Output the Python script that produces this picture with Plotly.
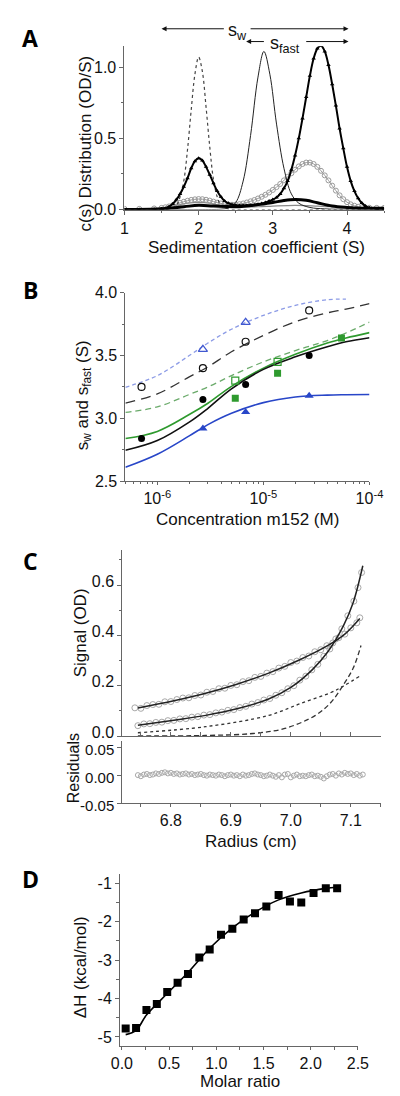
import plotly.graph_objects as go

FONT = "Liberation Sans"
W, H = 400, 1096

# ---------------- Panel A data ----------------
a_dot_s = [1.0, 1.5, 1.6, 1.7, 1.75, 1.8, 1.85, 1.9, 1.95, 2.0, 2.05, 2.1, 2.15, 2.2, 2.25, 2.3, 2.4, 2.5, 3.0, 4.5]
a_dot_c = [0.0, 0.0, 0.004, 0.03, 0.09, 0.2, 0.42, 0.7, 0.95, 1.07, 0.97, 0.72, 0.44, 0.21, 0.09, 0.03, 0.004, 0.0, 0.0, 0.0]

a_thin_s = [1.0, 2.0, 2.3, 2.4, 2.5, 2.6, 2.7, 2.8, 2.88, 2.96, 3.05, 3.15, 3.25, 3.35, 3.5, 3.7, 4.0, 4.5]
a_thin_c = [0.0, 0.0, 0.003, 0.012, 0.05, 0.2, 0.52, 0.93, 1.11, 0.95, 0.6, 0.29, 0.11, 0.045, 0.015, 0.005, 0.002, 0.0]

a_tri_s = [1.0, 1.2, 1.4, 1.5, 1.55, 1.6, 1.65, 1.7, 1.75, 1.8, 1.85, 1.9, 1.95, 2.0, 2.05, 2.1, 2.15, 2.2, 2.25,
           2.3, 2.35, 2.4, 2.45, 2.5, 2.55, 2.6, 2.65, 2.7, 2.75, 2.8, 2.85, 2.9, 2.95, 3.0, 3.05, 3.1, 3.15, 3.2,
           3.25, 3.3, 3.35, 3.4, 3.45, 3.5, 3.55, 3.6, 3.65, 3.7, 3.75, 3.8, 3.85, 3.9, 3.95, 4.0, 4.05, 4.1, 4.15,
           4.2, 4.25, 4.3, 4.4, 4.5]
a_tri_c = [0.0, 0.001, 0.003, 0.005, 0.01, 0.02, 0.04, 0.07, 0.11, 0.16, 0.22, 0.29, 0.34, 0.36, 0.345, 0.30, 0.245,
           0.185, 0.13, 0.09, 0.06, 0.045, 0.035, 0.03, 0.028, 0.028, 0.028, 0.03, 0.033, 0.037, 0.042, 0.05, 0.06,
           0.07, 0.085, 0.11, 0.15, 0.2, 0.28, 0.38, 0.5, 0.64, 0.79, 0.94, 1.06, 1.13, 1.15, 1.11, 1.015, 0.88, 0.73,
           0.57, 0.43, 0.30, 0.2, 0.13, 0.08, 0.046, 0.025, 0.013, 0.005, 0.003]

a_circ_s = [1.0, 1.2, 1.4, 1.5, 1.55, 1.6, 1.65, 1.7, 1.75, 1.8, 1.85, 1.9, 1.95, 2.0, 2.05, 2.1, 2.15, 2.2, 2.25,
            2.3, 2.35, 2.4, 2.45, 2.5, 2.55, 2.6, 2.65, 2.7, 2.75, 2.8, 2.85, 2.9, 2.95, 3.0, 3.05, 3.1, 3.15, 3.2,
            3.25, 3.3, 3.35, 3.4, 3.45, 3.5, 3.55, 3.6, 3.65, 3.7, 3.75, 3.8, 3.85, 3.9, 3.95, 4.0, 4.05, 4.1, 4.15,
            4.2, 4.3, 4.4, 4.5]
a_circ_c = [0.005, 0.005, 0.008, 0.012, 0.016, 0.022, 0.03, 0.038, 0.047, 0.055, 0.062, 0.068, 0.072, 0.074, 0.073,
            0.069, 0.063, 0.056, 0.049, 0.043, 0.038, 0.035, 0.034, 0.035, 0.038, 0.043, 0.05, 0.058, 0.067, 0.078,
            0.09, 0.104, 0.12, 0.138, 0.158, 0.18, 0.205, 0.23, 0.255, 0.28, 0.303, 0.32, 0.33, 0.33, 0.32, 0.3, 0.272,
            0.24, 0.205, 0.168, 0.133, 0.1, 0.073, 0.052, 0.037, 0.027, 0.02, 0.016, 0.013, 0.012, 0.012]

a_gray_s = [1.0, 1.5, 1.7, 1.85, 2.0, 2.15, 2.3, 2.5, 2.8, 3.0, 3.3, 3.6, 4.0, 4.5]
a_gray_c = [0.003, 0.01, 0.03, 0.045, 0.05, 0.045, 0.03, 0.02, 0.02, 0.025, 0.03, 0.025, 0.015, 0.01]

a_thick_s = [1.0, 1.5, 1.8, 2.0, 2.2, 2.5, 2.8, 3.0, 3.15, 3.3, 3.45, 3.6, 3.8, 4.0, 4.2, 4.5]
a_thick_c = [0.0, 0.005, 0.02, 0.03, 0.025, 0.02, 0.035, 0.05, 0.063, 0.07, 0.065, 0.048, 0.025, 0.015, 0.01, 0.01]

# ---------------- Panel B data ----------------
b_conc = [7.1e-7, 2.69e-6, 6.8e-6, 2.7e-5]
b_open_circ = [3.25, 3.40, 3.61, 3.86]
b_fill_circ = [2.84, 3.15, 3.27, 3.50]
b_open_tri_x = [2.69e-6, 6.8e-6]
b_open_tri = [3.55, 3.765]
b_fill_tri_x = [2.69e-6, 6.8e-6, 2.7e-5]
b_fill_tri = [2.92, 3.05, 3.18]
b_open_sq_x = [5.43e-6, 1.36e-5]
b_open_sq = [3.30, 3.45]
b_fill_sq_x = [5.43e-6, 1.36e-5, 5.44e-5]
b_fill_sq = [3.16, 3.36, 3.64]

b_fit_x = [5.0e-7, 1.0e-6, 2.0e-6, 3.0e-6, 5.0e-6, 1.0e-5, 2.0e-5, 4.0e-5, 6.0e-5, 1.0e-4]
b_fit_lblue = [3.247, 3.34, 3.50, 3.60, 3.71, 3.82, 3.90, 3.945, 3.95, None]
b_fit_kdash = [3.122, 3.195, 3.33, 3.41, 3.53, 3.66, 3.77, 3.84, 3.87, 3.914]
b_fit_gdash = [3.047, 3.091, 3.19, 3.25, 3.34, 3.45, 3.54, 3.62, 3.68, 3.766]
b_fit_green = [2.839, 2.896, 3.03, 3.12, 3.255, 3.40, 3.51, 3.60, 3.64, 3.683]
b_fit_black = [2.745, 2.823, 2.97, 3.08, 3.235, 3.39, 3.49, 3.57, 3.61, 3.642]
b_fit_blue = [2.61, 2.714, 2.86, 2.95, 3.04, 3.125, 3.17, 3.185, 3.188, 3.19]

# ---------------- Panel C data ----------------
c_r1 = [6.74, 6.75, 6.76, 6.77, 6.78, 6.79, 6.80, 6.81, 6.82, 6.83, 6.84, 6.85, 6.86, 6.87, 6.88, 6.89, 6.90,
        6.91, 6.92, 6.93, 6.94, 6.95, 6.96, 6.97, 6.98, 6.99, 7.00, 7.01, 7.02, 7.03, 7.04, 7.05, 7.06, 7.07,
        7.08, 7.09, 7.10, 7.11, 7.115]
c_sig1 = [0.112, 0.110, 0.121, 0.125, 0.126, 0.136, 0.137, 0.145, 0.151, 0.152, 0.161, 0.163, 0.174, 0.177, 0.188,
          0.190, 0.201, 0.204, 0.216, 0.220, 0.233, 0.237, 0.250, 0.256, 0.270, 0.277, 0.292, 0.298, 0.312, 0.318,
          0.335, 0.343, 0.359, 0.370, 0.391, 0.405, 0.430, 0.450, 0.470]
c_r2 = [6.745, 6.755, 6.765, 6.775, 6.785, 6.795, 6.805, 6.815, 6.825, 6.835, 6.845, 6.855, 6.865, 6.875, 6.885,
        6.895, 6.905, 6.915, 6.925, 6.935, 6.945, 6.955, 6.965, 6.975, 6.985, 6.995, 7.005, 7.015, 7.025, 7.035,
        7.045, 7.055, 7.065, 7.075, 7.085, 7.095, 7.105, 7.112, 7.118]
c_sig2 = [0.041, 0.048, 0.049, 0.054, 0.055, 0.061, 0.062, 0.068, 0.069, 0.075, 0.077, 0.083, 0.085, 0.092, 0.095,
          0.102, 0.105, 0.113, 0.118, 0.127, 0.133, 0.143, 0.149, 0.162, 0.172, 0.188, 0.200, 0.222, 0.238, 0.263,
          0.285, 0.317, 0.346, 0.386, 0.426, 0.478, 0.536, 0.59, 0.65]
c_fit1_r = [6.745, 6.805, 6.858, 6.91, 6.963, 7.015, 7.062, 7.09, 7.115]
c_fit1 = [0.111, 0.14, 0.17, 0.206, 0.25, 0.303, 0.36, 0.405, 0.467]
c_fit2_r = [6.745, 6.805, 6.858, 6.91, 6.963, 7.0, 7.036, 7.062, 7.088, 7.104, 7.12]
c_fit2 = [0.043, 0.063, 0.082, 0.108, 0.147, 0.193, 0.264, 0.336, 0.44, 0.531, 0.677]
c_dot_r = [6.745, 6.858, 6.963, 7.015, 7.067, 7.088, 7.115]
c_dot = [0.013, 0.037, 0.082, 0.128, 0.173, 0.199, 0.238]
c_dash_r = [6.745, 6.858, 6.937, 6.99, 7.041, 7.067, 7.088, 7.104, 7.117]
c_dash = [0.0, 0.002, 0.01, 0.03, 0.082, 0.134, 0.205, 0.27, 0.36]

c_res_r = [6.745, 6.750, 6.755, 6.760, 6.765, 6.770, 6.775, 6.780, 6.785, 6.790,
           6.795, 6.800, 6.805, 6.810, 6.815, 6.820, 6.825, 6.830, 6.835, 6.840,
           6.845, 6.850, 6.855, 6.860, 6.865, 6.870, 6.875, 6.880, 6.885, 6.890,
           6.895, 6.900, 6.905, 6.910, 6.915, 6.920, 6.925, 6.930, 6.935, 6.940,
           6.945, 6.950, 6.955, 6.960, 6.965, 6.970, 6.975, 6.980, 6.985, 6.990,
           6.995, 7.000, 7.005, 7.010, 7.015, 7.020, 7.025, 7.030, 7.035, 7.040,
           7.045, 7.050, 7.055, 7.060, 7.065, 7.070, 7.075, 7.080, 7.085, 7.090,
           7.095, 7.100, 7.105, 7.110, 7.115, 7.120]
c_res = [0.000, -0.002, 0.001, 0.002, 0.000, 0.001, 0.003, 0.002, 0.004, 0.005,
         0.003, 0.004, 0.002, 0.003, 0.001, 0.002, 0.003, 0.001, 0.002, 0.000,
         0.001, 0.002, 0.000, -0.001, 0.001, 0.000, -0.001, 0.001, 0.000, -0.002,
         0.000, 0.001, -0.001, 0.000, -0.002, 0.001, -0.001, 0.000, 0.002, 0.003,
         0.001, 0.000, -0.002, -0.001, 0.001, -0.001, -0.003, 0.000, -0.004, 0.001,
         0.002, -0.004, -0.001, 0.001, -0.002, -0.001, -0.002, 0.000, 0.001, -0.002,
         -0.001, -0.003, -0.006, -0.002, 0.001, 0.002, -0.001, 0.003, 0.001, 0.004,
         0.002, 0.003, 0.000, 0.002, -0.001, 0.001]

# ---------------- Panel D data ----------------
d_ratio = [0.04, 0.15, 0.26, 0.37, 0.48, 0.59, 0.70, 0.82, 0.93, 1.05, 1.17, 1.29, 1.41, 1.53, 1.66, 1.78,
           1.90, 2.03, 2.16, 2.28]
d_dh = [-4.78, -4.77, -4.30, -4.14, -3.83, -3.59, -3.36, -2.93, -2.72, -2.34, -2.18, -1.94, -1.78, -1.60, -1.30,
        -1.47, -1.50, -1.25, -1.13, -1.13]
d_fit_x = [0.04, 0.15, 0.26, 0.48, 0.70, 0.93, 1.17, 1.41, 1.66, 1.90, 2.16, 2.28]
d_fit = [-4.94, -4.83, -4.43, -3.87, -3.32, -2.69, -2.16, -1.75, -1.43, -1.25, -1.13, -1.10]

fig = go.Figure()

# Panel A traces
fig.add_trace(go.Scatter(x=a_gray_s, y=a_gray_c, mode="lines", line=dict(color="#8a8a8a", width=1.2, shape="spline"),
                         xaxis="x", yaxis="y"))
fig.add_trace(go.Scatter(x=a_circ_s, y=a_circ_c, mode="lines+markers",
                         line=dict(color="#9a9a9a", width=1, shape="spline"),
                         marker=dict(symbol="circle-open", size=5, color="#9a9a9a", line=dict(width=1)),
                         xaxis="x", yaxis="y"))
fig.add_trace(go.Scatter(x=a_dot_s, y=a_dot_c, mode="lines", line=dict(color="#444", width=1.2, dash="dot", shape="spline"),
                         xaxis="x", yaxis="y"))
fig.add_trace(go.Scatter(x=a_thin_s, y=a_thin_c, mode="lines", line=dict(color="#222", width=1, shape="spline"),
                         xaxis="x", yaxis="y"))
fig.add_trace(go.Scatter(x=a_thick_s, y=a_thick_c, mode="lines", line=dict(color="#000", width=3, shape="spline"),
                         xaxis="x", yaxis="y"))
fig.add_trace(go.Scatter(x=a_tri_s, y=a_tri_c, mode="lines+markers", line=dict(color="#000", width=2, shape="spline"),
                         marker=dict(symbol="triangle-up", size=4, color="#000"),
                         xaxis="x", yaxis="y"))

# Panel B traces
lines_b = [
    (b_fit_lblue, "#8c9be6", "4px,3px", 1.3),
    (b_fit_kdash, "#333333", "10px,6px", 1.3),
    (b_fit_gdash, "#6aaa6a", "6px,4px", 1.3),
    (b_fit_green, "#2e9a2e", "solid", 1.6),
    (b_fit_black, "#111111", "solid", 1.6),
    (b_fit_blue, "#2846c8", "solid", 1.6),
]
for yv, col, dsh, wd in lines_b:
    fig.add_trace(go.Scatter(x=b_fit_x, y=yv, mode="lines", line=dict(color=col, width=wd, dash=dsh, shape="spline"),
                             connectgaps=False, xaxis="x2", yaxis="y2"))
fig.add_trace(go.Scatter(x=b_open_tri_x, y=b_open_tri, mode="markers",
                         marker=dict(symbol="triangle-up-open", size=8, color="#4058d0", line=dict(width=1.2)),
                         xaxis="x2", yaxis="y2"))
fig.add_trace(go.Scatter(x=b_conc, y=b_open_circ, mode="markers",
                         marker=dict(symbol="circle-open", size=7, color="#111", line=dict(width=1.2)),
                         xaxis="x2", yaxis="y2"))
fig.add_trace(go.Scatter(x=b_open_sq_x, y=b_open_sq, mode="markers",
                         marker=dict(symbol="square-open", size=7, color="#2e9a2e", line=dict(width=1.2)),
                         xaxis="x2", yaxis="y2"))
fig.add_trace(go.Scatter(x=b_fill_sq_x, y=b_fill_sq, mode="markers",
                         marker=dict(symbol="square", size=7, color="#2e9a2e"),
                         xaxis="x2", yaxis="y2"))
fig.add_trace(go.Scatter(x=b_conc, y=b_fill_circ, mode="markers",
                         marker=dict(symbol="circle", size=7, color="#000"),
                         xaxis="x2", yaxis="y2"))
fig.add_trace(go.Scatter(x=b_fill_tri_x, y=b_fill_tri, mode="markers",
                         marker=dict(symbol="triangle-up", size=8, color="#2846c8"),
                         xaxis="x2", yaxis="y2"))

# Panel C traces
fig.add_trace(go.Scatter(x=c_r1, y=c_sig1, mode="markers",
                         marker=dict(symbol="circle-open", size=6, color="#a8a8a8", line=dict(width=1)),
                         xaxis="x3", yaxis="y3"))
fig.add_trace(go.Scatter(x=c_r2, y=c_sig2, mode="markers",
                         marker=dict(symbol="circle-open", size=6, color="#a8a8a8", line=dict(width=1)),
                         xaxis="x3", yaxis="y3"))
fig.add_trace(go.Scatter(x=c_fit1_r, y=c_fit1, mode="lines", line=dict(color="#222", width=1.5, shape="spline"),
                         xaxis="x3", yaxis="y3"))
fig.add_trace(go.Scatter(x=c_fit2_r, y=c_fit2, mode="lines", line=dict(color="#222", width=1.5, shape="spline"),
                         xaxis="x3", yaxis="y3"))
fig.add_trace(go.Scatter(x=c_dot_r, y=c_dot, mode="lines", line=dict(color="#333", width=1.3, dash="dot", shape="spline"),
                         xaxis="x3", yaxis="y3"))
fig.add_trace(go.Scatter(x=c_dash_r, y=c_dash, mode="lines", line=dict(color="#333", width=1.3, dash="5px,3px", shape="spline"),
                         xaxis="x3", yaxis="y3"))
fig.add_trace(go.Scatter(x=c_res_r, y=c_res, mode="markers",
                         marker=dict(symbol="circle-open", size=5, color="#a8a8a8", line=dict(width=1)),
                         xaxis="x4", yaxis="y4"))

# Panel D traces
fig.add_trace(go.Scatter(x=d_fit_x, y=d_fit, mode="lines", line=dict(color="#000", width=1.6, shape="spline"),
                         xaxis="x5", yaxis="y5"))
fig.add_trace(go.Scatter(x=d_ratio, y=d_dh, mode="markers", marker=dict(symbol="square", size=8, color="#000"),
                         xaxis="x5", yaxis="y5"))


def px_x(p):
    return p / W


def px_y(p):
    return 1 - p / H


tickfont = dict(family=FONT, size=16, color="#111")
base = dict(showline=True, linecolor="#666", linewidth=1, ticks="outside", ticklen=4, tickcolor="#666",
            showgrid=False, zeroline=False, tickfont=tickfont)

minor_b = [k * 10 ** e for e in (-7, -6, -5) for k in range(2, 10) if 5e-7 <= k * 10 ** e <= 1e-4]

fig.update_layout(
    width=W, height=H, margin=dict(l=0, r=0, t=0, b=0), showlegend=False,
    paper_bgcolor="white", plot_bgcolor="white", font=dict(family=FONT, color="#111"),
    xaxis=dict(base, domain=[px_x(114), px_x(389.5)], range=[1, 4.5], anchor="y", tickvals=[1, 2, 3, 4],
               minor=dict(dtick=0.5, ticklen=2, ticks="outside", tickcolor="#666")),
    yaxis=dict(base, domain=[px_y(197), px_y(30.7)], range=[0, 1.147], anchor="x", tickvals=[0, 0.5, 1.0],
               tickformat=".1f", minor=dict(dtick=0.25, ticklen=2, ticks="outside", tickcolor="#666")),
    xaxis2=dict(base, domain=[px_x(115), px_x(374)], type="log", range=[-6.301, -4], anchor="y2",
                tickvals=[1e-6, 1e-5, 1e-4], ticktext=["10<sup>-6</sup>", "10<sup>-5</sup>", "10<sup>-4</sup>"],
                ticklen=3,
                minor=dict(tickvals=minor_b, ticklen=2, ticks="outside", tickcolor="#666")),
    yaxis2=dict(base, domain=[px_y(473.3), px_y(281.7)], range=[2.5, 4.0], anchor="x2",
                tickvals=[2.5, 3.0, 3.5, 4.0], tickformat=".1f",
                minor=dict(dtick=0.25, ticklen=2, ticks="outside", tickcolor="#666")),
    xaxis3=dict(base, domain=[px_x(111.7), px_x(386)], range=[6.719, 7.15], anchor="y3", showticklabels=False,
                ticks="inside", dtick=0.05, tick0=6.75),
    yaxis3=dict(base, domain=[px_y(732.7), px_y(543.3)], range=[0, 0.74], anchor="x3",
                tickvals=[0, 0.2, 0.4, 0.6], tickformat=".1f", ticklabelshift=-4,
                minor=dict(dtick=0.1, ticklen=2, ticks="outside", tickcolor="#666")),
    xaxis4=dict(base, domain=[px_x(111.7), px_x(386)], range=[6.719, 7.15], anchor="y4", ticklen=3,
                tickvals=[6.8, 6.9, 7.0, 7.1], tickformat=".1f",
                minor=dict(dtick=0.05, tick0=6.75, ticklen=3, ticks="outside", tickcolor="#666")),
    yaxis4=dict(base, domain=[px_y(801), px_y(738)], range=[-0.05, 0.0605], anchor="x4",
                tickvals=[-0.05, 0, 0.05], ticktext=["-0.05", "0.00", "0.05"], ticklabelshift=3,
                tickfont=dict(family=FONT, size=15, color="#111")),
    xaxis5=dict(base, domain=[px_x(109.3), px_x(361.7)], range=[-0.02, 2.5], anchor="y5", ticklen=3,
                tickvals=[0, 0.5, 1.0, 1.5, 2.0, 2.5], tickformat=".1f",
                minor=dict(dtick=0.25, ticklen=3, ticks="outside", tickcolor="#666")),
    yaxis5=dict(base, domain=[px_y(1048.3), px_y(873.3)], range=[-5.24, -0.76], anchor="x5",
                tickvals=[-5, -4, -3, -2, -1], ticktext=["-5", "-4", "-3", "-2", "-1"],
                minor=dict(dtick=0.5, ticklen=3, ticks="outside", tickcolor="#666")),
)

ann = []
tfont = dict(family=FONT, size=17, color="#111")


def add_text(text, x, y, angle=0, font=tfont):
    ann.append(dict(text=text, x=px_x(x), y=px_y(y), xref="paper", yref="paper", showarrow=False,
                    xanchor="center", yanchor="middle", textangle=angle, font=font))


add_text("Sedimentation coefficient (S)", 254, 236)
add_text("c(s) Distribution (OD/S)", 73, 130, -90)
add_text("Concentration m152 (M)", 245, 512)
add_text("s<sub>w</sub> and s<sub>fast</sub> (S)", 71, 386, -90)
add_text("Signal (OD)", 67, 628, -90)
add_text("Residuals", 60, 766, -90, dict(family=FONT, size=16, color="#111"))
add_text("Radius (cm)", 248, 840)
add_text("ΔH (kcal/mol)", 67, 968, -90)
add_text("Molar ratio", 237, 1084)

lfont = dict(family="Open Sans", size=23, color="#000")
for lab, yy in (("<b>A</b>", 22), ("<b>B</b>", 279), ("<b>C</b>", 555), ("<b>D</b>", 878)):
    add_text(lab, 14, yy, 0, lfont)

# arrows for s_w and s_fast in panel A
sfont = dict(family=FONT, size=18, color="#111")
yw = px_y(13)
yf = px_y(26)
arrow_defs = [(1.5, 2.36, yw), (4.02, 2.68, yw), (2.64, 2.9, yf), (4.02, 3.43, yf)]
for head, tail, yy in arrow_defs:
    ann.append(dict(text="", x=head, y=yy, xref="x", yref="paper", ax=tail, ay=0, axref="x", ayref="pixel",
                    showarrow=True, arrowhead=2, arrowsize=1, arrowwidth=1, arrowcolor="#111"))
ann.append(dict(text="s<sub>w</sub>", x=2.52, y=px_y(16), xref="x", yref="paper", showarrow=False,
                xanchor="center", yanchor="middle", font=sfont))
ann.append(dict(text="s<sub>fast</sub>", x=3.16, y=px_y(29), xref="x", yref="paper", showarrow=False,
                xanchor="center", yanchor="middle", font=sfont))

fig.update_layout(annotations=ann)
fig.write_html("out.html")
